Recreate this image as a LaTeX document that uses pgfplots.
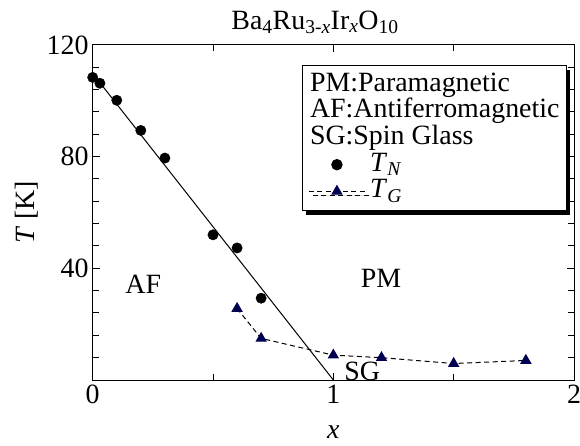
\documentclass[border=0pt]{standalone}
\usepackage{fontspec}
\setmainfont{Liberation Serif}
\usepackage{pgfplots}
\pgfplotsset{compat=1.18}
\usetikzlibrary{shadows}
\definecolor{tgnavy}{RGB}{0,0,80}
\newcommand{\bigfont}{\fontsize{28}{32}\selectfont}

\begin{document}
\begin{tikzpicture}
\begin{axis}[
  scale only axis,
  width=481.3bp, height=335bp,
  xmin=0, xmax=2, ymin=0, ymax=120,
  clip=false,
  xtick={0,1,2},
  ytick={0,40,80,120}, yticklabels={,40,80,120},
  minor x tick num=1, minor y tick num=4,
  tick align=inside,
  major tick length=7bp, minor tick length=6bp,
  axis line style={line width=1bp},
  every tick/.style={line width=1bp,black},
  /pgf/number format/assume math mode=true,
  tick label style={font=\bigfont},
  xticklabel style={inner sep=5bp},
  yticklabel style={inner sep=4bp},
  xlabel={\textit{x}},
  xlabel style={font=\bigfont, at={(axis description cs:0.5,-0.155)}, anchor=center},
  ylabel={\textit{T} [K]},
  ylabel style={font=\bigfont, at={(axis description cs:-0.137,0.5)}, anchor=center},
  title={Ba\textsubscript{4}Ru\textsubscript{3-\textit{x}}Ir\textsubscript{\textit{x}}O\textsubscript{10}},
  title style={font=\bigfont, at={(axis description cs:0.462,1)}, anchor=base, yshift=10bp, inner sep=0pt},
  legend cell align=left,
  legend style={
    at={(axis description cs:0.985,0.94)}, anchor=north east,
    font=\bigfont, draw=black, line width=1bp, fill=white,
    inner xsep=6bp, inner ysep=6bp,
    drop shadow={shadow xshift=4bp, shadow yshift=-4bp, fill=black, opacity=1},
    nodes={inner sep=0.8bp, text height=19bp, text depth=6bp},
    row sep=0bp,
  },
  legend image code/.code={\draw[mark repeat=2,mark phase=2,#1] plot coordinates {(0bp,0bp)(28bp,0bp)(56bp,0bp)};
    \path (60bp,0bp);},
]
\addlegendimage{empty legend}
\addlegendentry{\hspace*{-60.2bp}PM:Paramagnetic}
\addlegendimage{empty legend}
\addlegendentry{\hspace*{-60.2bp}AF:Antiferromagnetic}
\addlegendimage{empty legend}
\addlegendentry{\hspace*{-60.2bp}SG:Spin Glass}

% T_N
\addplot[only marks, mark=*, mark size=5.2bp, black] coordinates {
  (0.00,108.4) (0.03,106.3) (0.10,100.2) (0.20,89.4)
  (0.30,79.5) (0.50,52.0) (0.60,47.3) (0.70,29.3)
};
\addlegendentry{\textit{T}\textsubscript{\textit{N}}}

% T_G
\addplot[black, line width=1bp, dash pattern=on 5bp off 3.5bp,
  mark=triangle*, mark size=5.6bp, mark options={solid, fill=tgnavy, draw=tgnavy}] coordinates {
  (0.60,25.6) (0.70,14.9) (1.00,8.9) (1.20,8.0) (1.50,5.9) (1.80,7.0)
};
\addlegendentry{\textit{T}\textsubscript{\textit{G}}}

% phase boundary
\addplot[black, line width=1bp, no marks, forget plot] coordinates {(0.03,106.5) (1,0)};

\node[font=\bigfont, anchor=base, inner sep=0pt] at (axis cs:0.21,31.1) {AF};
\node[font=\bigfont, anchor=base, inner sep=0pt] at (axis cs:1.198,33.2) {PM};
\node[font=\bigfont, anchor=base, inner sep=0pt] at (axis cs:1.12,0) {SG};
\end{axis}
\pgfresetboundingbox
\useasboundingbox (-92.7bp,-66bp) rectangle (487.3bp,380bp);
\end{tikzpicture}
\end{document}
